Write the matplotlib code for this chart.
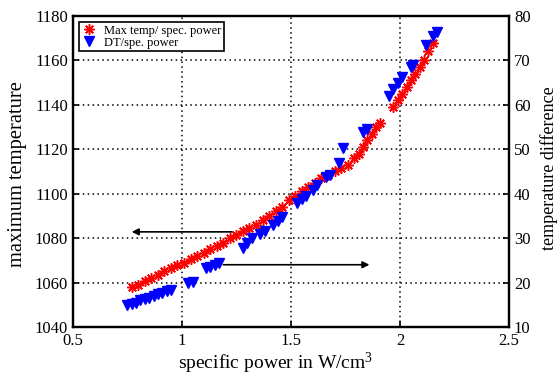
import matplotlib
matplotlib.use("Agg")
import matplotlib.pyplot as plt

plt.rcParams['font.family'] = ['Liberation Serif', 'DejaVu Serif']
plt.rcParams['mathtext.fontset'] = 'custom'
plt.rcParams['mathtext.rm'] = 'Liberation Serif'
plt.rcParams['mathtext.it'] = 'Liberation Serif:italic'
plt.rcParams['mathtext.bf'] = 'Liberation Serif:bold'

# Max temperature vs specific power (left axis)
red_x = [0.77, 0.80, 0.83, 0.86, 0.89, 0.92, 0.95, 0.98, 1.01, 1.04, 1.07, 1.10, 1.13,
         1.16, 1.19, 1.22, 1.25, 1.28, 1.31, 1.34, 1.37, 1.40, 1.43, 1.46, 1.49, 1.52,
         1.55, 1.58, 1.61, 1.64, 1.67, 1.70, 1.73, 1.76, 1.79, 1.81, 1.83, 1.85, 1.87,
         1.89, 1.91, 1.97, 1.99, 2.01, 2.03, 2.05, 2.07, 2.09, 2.11, 2.13, 2.15]
red_y = [1058, 1059, 1060.5, 1062, 1063.5, 1065, 1066.5, 1068, 1069, 1070.5, 1072, 1073.5, 1075,
         1076.5, 1078, 1080, 1081.5, 1083, 1084.5, 1086, 1088, 1090, 1092, 1094, 1097, 1099,
         1101, 1103, 1105, 1107, 1108.5, 1110, 1111.5, 1113, 1116, 1118, 1121, 1124, 1127,
         1130, 1132, 1139, 1142, 1145, 1148, 1151, 1154, 1157, 1160, 1164, 1168]

# Temperature difference vs specific power (right axis)
blue_x = [0.75, 0.77, 0.79, 0.81, 0.83, 0.85, 0.87, 0.89, 0.91, 0.93, 0.95, 1.03, 1.05,
          1.11, 1.13, 1.15, 1.17, 1.28, 1.30, 1.32, 1.36, 1.38, 1.42, 1.44, 1.46, 1.53,
          1.55, 1.57, 1.60, 1.62, 1.66, 1.68, 1.72, 1.74, 1.83, 1.85, 1.95, 1.97, 1.99,
          2.01, 2.05, 2.06, 2.12, 2.15, 2.17]
blue_y = [15.0, 15.2, 15.5, 16.0, 16.3, 16.6, 17.0, 17.4, 17.7, 18.0, 18.4, 19.8, 20.2,
          23.3, 23.6, 24.0, 24.4, 27.8, 29.0, 30.0, 31.0, 31.6, 33.0, 33.8, 34.8, 38.0,
          38.8, 39.5, 40.8, 42.0, 43.8, 44.3, 47.0, 50.2, 53.8, 54.5, 62.0, 63.5, 65.0,
          66.2, 68.5, 69.0, 73.5, 75.5, 76.3]

x_ticks = [0.5, 1, 1.5, 2, 2.5]
x_tick_labels = ['0.5', '1', '1.5', '2', '2.5']
left_ticks = [1040, 1060, 1080, 1100, 1120, 1140, 1160, 1180]
right_ticks = [10, 20, 30, 40, 50, 60, 70, 80]

fig = plt.figure(figsize=(5.6, 3.78), dpi=100)
ax = fig.add_axes([0.130, 0.135, 0.779, 0.823])
ax2 = ax.twinx()

ax.set_xlim(0.5, 2.5)
ax.set_ylim(1040, 1180)
ax2.set_ylim(10, 80)

ax.set_xticks(x_ticks)
ax.set_xticklabels(x_tick_labels)
ax.set_yticks(left_ticks)
ax2.set_yticks(right_ticks)

ax.grid(True, color='black', linestyle=(0, (1, 2.2)), linewidth=1.1)
ax.set_axisbelow(True)

l1, = ax.plot(red_x, red_y, linestyle='none', marker=(8, 2, 0), markersize=7.5,
              markeredgecolor='red', markeredgewidth=1.1, color='red',
              label='Max temp/ spec. power', zorder=3)
l2, = ax2.plot(blue_x, blue_y, linestyle='none', marker='v', markersize=6.5,
               color='blue', markeredgecolor='blue', label='DT/spe. power', zorder=3)

ax.annotate('', xy=(0.77, 1082.8), xytext=(1.23, 1082.8),
            arrowprops=dict(arrowstyle='-|>', color='black', lw=1.2,
                            mutation_scale=10, shrinkA=0, shrinkB=0))
ax2.annotate('', xy=(1.86, 24), xytext=(1.19, 24),
             arrowprops=dict(arrowstyle='-|>', color='black', lw=1.2,
                             mutation_scale=10, shrinkA=0, shrinkB=0))

for a in (ax, ax2):
    for s in a.spines.values():
        s.set_linewidth(1.6)
    a.tick_params(direction='in', length=4, width=1.2, labelsize=12)
ax.tick_params(axis='x', pad=4)

ax.set_xlabel('specific power in W/cm$^3$', fontsize=14)
ax.xaxis.set_label_coords(0.465, -0.075)
ax.set_ylabel('maximum temperature', fontsize=14.8)
ax.yaxis.set_label_coords(-0.105, 0.49)
ax2.set_ylabel('temperature difference', fontsize=13)
ax2.yaxis.set_label_coords(1.071, 0.51)

leg = ax.legend(handles=[l1, l2], loc='upper left', fontsize=9, frameon=True,
                fancybox=False, edgecolor='black', borderpad=0.2, labelspacing=0.0,
                handlelength=1.2, handletextpad=0.6, borderaxespad=0.5)
leg.get_frame().set_linewidth(1.2)
leg.get_frame().set_alpha(1)

fig.savefig('out.png', dpi=100)
